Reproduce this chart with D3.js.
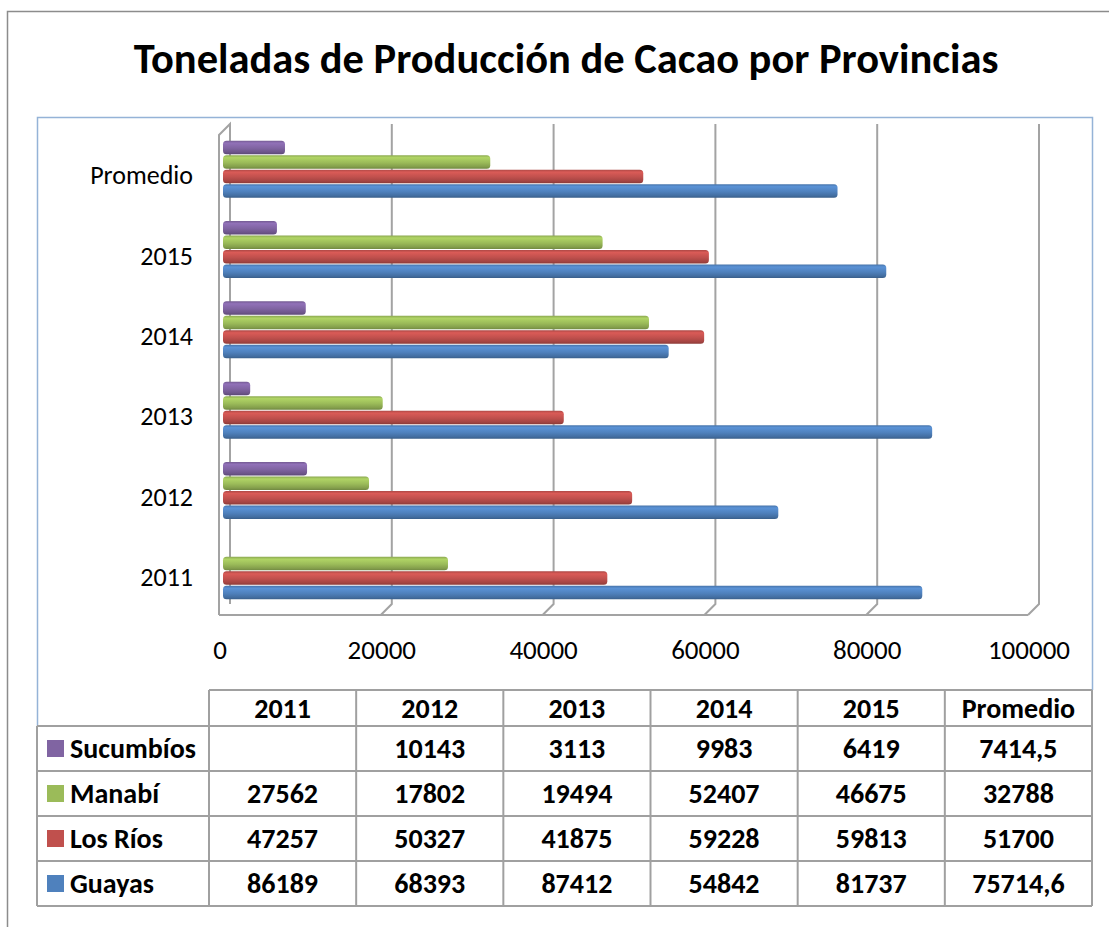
<!DOCTYPE html>
<html>
<head>
<meta charset="utf-8">
<script src="https://cdn.jsdelivr.net/npm/d3@7"></script>
<style>
  body { margin: 0; background: #fff; }
  text { font-family: Carlito, Calibri, Lato, sans-serif; fill: #000; }
</style>
</head>
<body>
<svg id="chart" width="1109" height="927"></svg>
<script>
// data
var years = ["2011", "2012", "2013", "2014", "2015", "Promedio"];
var provincias = ["Sucumbíos", "Manabí", "Los Ríos", "Guayas"];
var colores = ["#8064a2", "#9bbb59", "#c0504d", "#4f81bd"];
var sucumbios = [null, 10143, 3113, 9983, 6419, 7414.5];
var manabi = [27562, 17802, 19494, 52407, 46675, 32788];
var losRios = [47257, 50327, 41875, 59228, 59813, 51700];
var guayas = [86189, 68393, 87412, 54842, 81737, 75714.6];
var ticks = [0, 20000, 40000, 60000, 80000, 100000];

var series = [sucumbios, manabi, losRios, guayas];

var svg = d3.select('#chart');

/* frames */
svg.append('rect')
    .attr('x', 7.5).attr('y', 11.5)
    .attr('width', 1200).attr('height', 1000)
    .attr('fill', 'none')
    .attr('stroke', '#8c8c8c')
    .attr('stroke-width', 1.5);

svg.append('path')
    .attr('d', 'M37.5,726 V117.5 H1092.5 V690')
    .attr('fill', 'none')
    .attr('stroke', '#95b3d7')
    .attr('stroke-width', 1.5);

// title
var title = svg.append('text')
    .attr('x', 566).attr('y', 73)
    .attr('text-anchor', 'middle')
    .style('font-weight', 'bold')
    .style('font-size', '36px')
    .text('Toneladas de Producción de Cacao por Provincias');
var tw = title.node().getComputedTextLength();
title.style('font-size', (36 * 865 / tw) + 'px');

/* BEGIN plot */
var frontX = 219, backX = 230, barX = 225;
var topBack = 124, floorBack = 604, floorFront = 615;

var x = d3.scaleLinear()
    .domain([0, 100000])
    .range([0, 809]);

var y = d3.scaleBand()
    .domain(years.slice().reverse())
    .range([129, 611])
    .paddingInner(0.29)
    .paddingOuter(0.145);

var ySub = d3.scaleBand()
    .domain(provincias)
    .range([0, y.bandwidth()])
    .paddingInner(0.07);

var grid = svg.append('g')
    .attr('fill', 'none')
    .attr('stroke', '#a3a3a3')
    .attr('stroke-width', 2);

// walls
grid.append('path')
    .attr('d', 'M' + frontX + ',' + floorFront + ' V' + (topBack + 11) +
        ' L' + backX + ',' + topBack + ' V' + floorBack);
grid.append('path')
    .attr('d', 'M' + frontX + ',' + floorFront + ' H' + (frontX + x(100000)));

grid.selectAll('.gl')
    .data(ticks.slice(1))
    .enter().append('path')
    .attr('class', 'gl')
    .attr('d', function(d) {
        return 'M' + (backX + x(d)) + ',' + topBack + ' V' + floorBack +
            ' L' + (frontX + x(d)) + ',' + floorFront;
    });

// gradients
var defs = svg.append('defs');
colores.forEach(function(c, i) {
    var g = defs.append('linearGradient')
        .attr('id', 'grad' + i)
        .attr('x1', '0%').attr('y1', '0%')
        .attr('x2', '0%').attr('y2', '100%');
    g.append('stop').attr('offset', '0%').attr('stop-color', d3.color(c).darker(0.3));
    g.append('stop').attr('offset', '18%').attr('stop-color', d3.color(c).brighter(0.35));
    g.append('stop').attr('offset', '55%').attr('stop-color', c);
    g.append('stop').attr('offset', '85%').attr('stop-color', d3.color(c).darker(0.45));
    g.append('stop').attr('offset', '100%').attr('stop-color', d3.color(c).darker(0.9));
});

// bars
var bars = svg.append('g');
years.forEach(function(yr, j) {
    series.forEach(function(s, i) {
        var v = s[j];
        if (v == null) return;
        bars.append('rect')
            .attr('x', barX - 2)
            .attr('y', y(yr) + ySub(provincias[i]))
            .attr('width', x(v) + 2)
            .attr('height', ySub.bandwidth())
            .attr('rx', 3.5)
            .attr('fill', 'url(#grad' + i + ')');
    });
});

// category labels
svg.selectAll('.cat')
    .data(years)
    .enter().append('text')
    .attr('class', 'cat')
    .attr('x', 193)
    .attr('y', function(d) { return y(d) + y.bandwidth() / 2 + 6; })
    .attr('dy', '0.35em')
    .attr('text-anchor', 'end')
    .style('font-size', '26px')
    .text(function(d) { return d; });

// value axis labels
svg.selectAll('.tk')
    .data(ticks)
    .enter().append('text')
    .attr('class', 'tk')
    .attr('x', function(d) { return 220 + x(d); })
    .attr('y', 650)
    .attr('dy', '0.35em')
    .attr('text-anchor', 'middle')
    .style('font-size', '27px')
    .text(function(d) { return d; });
/* END plot */

/* BEGIN table */
var col = d3.scaleBand()
    .domain(years)
    .range([209, 1092]);
var row = d3.scaleBand()
    .domain(provincias)
    .range([726, 906]);
var headTop = 690;

var tbl = svg.append('g');
var lines = tbl.append('g')
    .attr('stroke', '#a0a0a0')
    .attr('stroke-width', 2)
    .attr('fill', 'none');

// horizontal lines
lines.append('line').attr('x1', 209).attr('x2', 1092).attr('y1', headTop).attr('y2', headTop);
provincias.forEach(function(p) {
    lines.append('line').attr('x1', 37).attr('x2', 1092)
        .attr('y1', row(p)).attr('y2', row(p));
});
lines.append('line').attr('x1', 37).attr('x2', 1092).attr('y1', 906).attr('y2', 906);
// vertical lines
lines.append('line').attr('x1', 37).attr('x2', 37).attr('y1', 726).attr('y2', 906);
years.forEach(function(yr) {
    lines.append('line').attr('x1', col(yr)).attr('x2', col(yr))
        .attr('y1', headTop).attr('y2', 906);
});
lines.append('line').attr('x1', 1092).attr('x2', 1092).attr('y1', headTop).attr('y2', 906);

// header
tbl.selectAll('.hd')
    .data(years)
    .enter().append('text')
    .attr('x', function(d) { return col(d) + col.bandwidth() / 2; })
    .attr('y', (headTop + 726) / 2)
    .attr('dy', '0.35em')
    .attr('text-anchor', 'middle')
    .style('font-size', '28px')
    .style('font-weight', 'bold')
    .text(function(d) { return d; });

// row labels + legend keys
provincias.forEach(function(p, i) {
    var cy = row(p) + row.bandwidth() / 2;
    tbl.append('rect')
        .attr('x', 47).attr('y', cy - 8.5)
        .attr('width', 17).attr('height', 17)
        .attr('fill', colores[i]);
    tbl.append('text')
        .attr('x', 70).attr('y', cy)
        .attr('dy', '0.35em')
        .style('font-size', '28px')
        .style('font-weight', 'bold')
        .text(p);
    years.forEach(function(yr, j) {
        var v = series[i][j];
        if (v == null) return;
        tbl.append('text')
            .attr('x', col(yr) + col.bandwidth() / 2)
            .attr('y', cy)
            .attr('dy', '0.35em')
            .attr('text-anchor', 'middle')
            .style('font-size', '28px')
            .style('font-weight', 'bold')
            .text(String(v).replace('.', ','));
    });
});
/* END table */
</script>
</body>
</html>
